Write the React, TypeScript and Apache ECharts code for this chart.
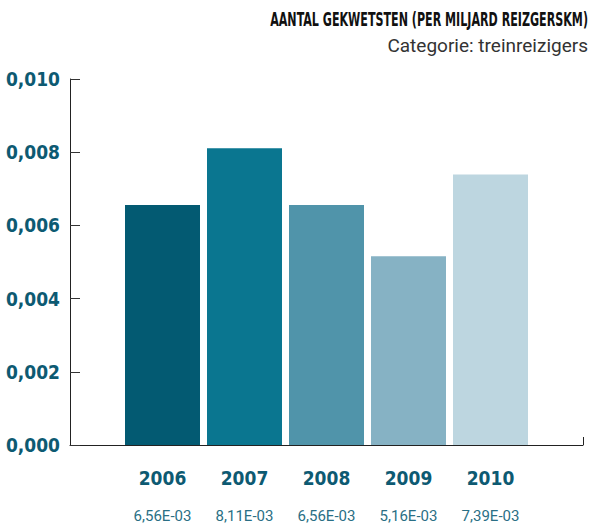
import React, { useEffect, useRef } from "react";
import * as echarts from "echarts";

const years = ["2006", "2007", "2008", "2009", "2010"];
const values = [0.00656, 0.00811, 0.00656, 0.00516, 0.00739];
const valueLabels = ["6,56E-03", "8,11E-03", "6,56E-03", "5,16E-03", "7,39E-03"];
const barColors = ["#035a72", "#0a7690", "#5094aa", "#86b2c4", "#bdd6e0"];
const titleText = "AANTAL GEKWETSTEN (PER MILJARD REIZGERSKM)";
const subtitleText = "Categorie: treinreizigers";

const NARROW = "'DejaVu Sans Condensed', 'Liberation Sans Narrow', sans-serif";
const TEAL = "#0d5a72";

export default function App() {
  const ref = useRef<HTMLDivElement>(null);
  useEffect(() => {
    if (!ref.current) return;
    const chart = echarts.init(ref.current, undefined, { renderer: "svg" });
    chart.setOption({
      animation: false,
      backgroundColor: "#ffffff",
      grid: [
        { left: 70, right: 9, top: 79, bottom: 84, outerBoundsMode: "none", containLabel: false },
        { left: 121.5, width: 410, top: 79, bottom: 84, outerBoundsMode: "none", containLabel: false },
      ],
      xAxis: [
        {
          type: "value",
          gridIndex: 0,
          min: 0,
          max: 1,
          interval: 1,
          axisLine: { show: true, lineStyle: { color: "#222", width: 1 } },
          axisTick: { show: true, inside: true, length: 8, lineStyle: { color: "#222" } },
          axisLabel: { show: false },
          splitLine: { show: false },
        },
        {
          type: "category",
          gridIndex: 1,
          data: years,
          axisLine: { show: false },
          axisTick: { show: false },
          axisLabel: {
            interval: 0,
            margin: 11,
            formatter: (v: string, i: number) => `{y|${v}}\n{v|${valueLabels[i]}}`,
            rich: {
              y: {
                fontFamily: NARROW,
                fontWeight: "bold",
                fontSize: 19,
                color: TEAL,
                lineHeight: 44,
              },
              v: {
                fontFamily: "'Roboto', 'Liberation Sans', sans-serif",
                fontSize: 15,
                color: "#2a6f85",
                lineHeight: 32,
              },
            },
          },
        },
      ],
      yAxis: [
        {
          type: "value",
          gridIndex: 0,
          min: 0,
          max: 0.01,
          interval: 0.002,
          axisLine: { show: true, lineStyle: { color: "#222", width: 1 } },
          axisTick: { show: true, inside: true, length: 10, lineStyle: { color: "#333" } },
          splitLine: { show: false },
          axisLabel: {
            margin: 10,
            fontFamily: NARROW,
            fontWeight: "bold",
            fontSize: 19,
            color: TEAL,
            formatter: (v: number) => v.toFixed(3).replace(".", ","),
          },
        },
        {
          type: "value",
          gridIndex: 1,
          min: 0,
          max: 0.01,
          show: false,
          splitLine: { show: false },
        },
      ],
      series: [
        {
          type: "bar",
          xAxisIndex: 1,
          yAxisIndex: 1,
          barWidth: 75,
          data: values.map((v, i) => ({ value: v, itemStyle: { color: barColors[i] } })),
        },
      ],
      graphic: [
        {
          type: "text",
          x: 588,
          y: 19,
          scaleX: 0.65,
          style: {
            text: titleText,
            textAlign: "right",
            textVerticalAlign: "middle",
            fontFamily: NARROW,
            fontWeight: "bold",
            fontSize: 19,
            fill: "#111",
          },
        },
        {
          type: "text",
          x: 588,
          y: 45,
          style: {
            text: subtitleText,
            textAlign: "right",
            textVerticalAlign: "middle",
            fontFamily: "'Roboto', 'Liberation Sans', sans-serif",
            fontSize: 19,
            fill: "#333",
          },
        },
      ],
    });
    return () => chart.dispose();
  }, []);
  return <div ref={ref} style={{ width: 592, height: 529, position: "absolute", left: 0, top: 0 }} />;
}
